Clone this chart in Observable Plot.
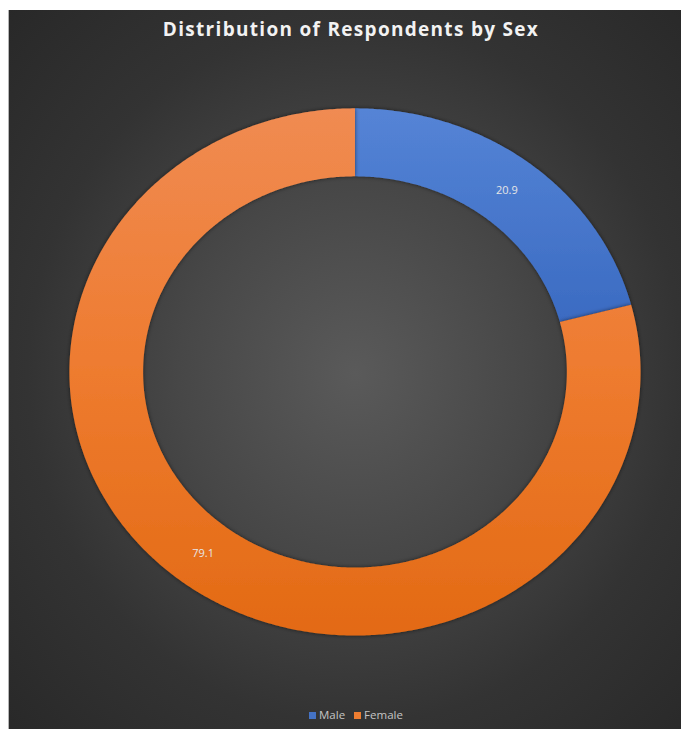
<!DOCTYPE html>
<html>
<head>
<meta charset="utf-8">
<script src="https://cdn.jsdelivr.net/npm/d3@7"></script>
<script src="https://cdn.jsdelivr.net/npm/@observablehq/plot@0.6"></script>
<style>
  html, body { margin: 0; padding: 0; background: #ffffff; }
  #panel {
    position: absolute; left: 8px; top: 10px; width: 673px; height: 719px;
    background: radial-gradient(ellipse 75% 75% at 51.5% 50.5%, #5a5a5a 0%, #474747 35%, #333333 65%, #272727 100%);
    border-left: 1px solid #b5b5b5; box-sizing: border-box; overflow: hidden;
  }
  #title {
    position: absolute; left: 6px; width: 100%; top: 6px; text-align: center;
    font-family: "Open Sans", sans-serif; font-weight: 700; font-size: 19px;
    letter-spacing: 1.3px; color: #f2f2f2;
  }
  #chart { position: absolute; left: 0; top: 0; }
  #legend {
    position: absolute; left: 300px; top: 697px; white-space: nowrap;
    font-family: "Open Sans", sans-serif; font-size: 11.5px; color: #c4c4c4;
  }
  #legend span.sw { display: inline-block; width: 7px; height: 7px; margin-right: 3px; vertical-align: 0px; }
  #legend span.item { margin-right: 9px; }
</style>
</head>
<body>
<div id="panel">
  <div id="chart"></div>
  <div id="title"></div>
  <div id="legend"></div>
</div>
<script>
const title = "Distribution of Respondents by Sex";
const categories = ["Male", "Female"];
const values = [20.9, 79.1];
const colors = ["#4472c4", "#ed7d31"];
const innerRatio = 0.742;

document.getElementById("title").textContent = title;

// build ring wedge polygons from the data
const total = d3.sum(values);
const points = [];
const labels = [];
let acc = 0;
categories.forEach((cat, i) => {
  const a0 = acc / total * 2 * Math.PI;
  acc += values[i];
  const a1 = acc / total * 2 * Math.PI;
  const n = Math.max(8, Math.ceil((a1 - a0) / (Math.PI / 360)));
  const outer = d3.range(n + 1).map(k => a0 + (a1 - a0) * k / n);
  outer.forEach(a => points.push({cat, x: Math.sin(a), y: Math.cos(a)}));
  outer.slice().reverse().forEach(a => points.push({cat, x: innerRatio * Math.sin(a), y: innerRatio * Math.cos(a)}));
  const am = (a0 + a1) / 2, rm = (1 + innerRatio) / 2;
  labels.push({cat, x: rm * Math.sin(am), y: rm * Math.cos(am), text: String(values[i])});
});

const plot = Plot.plot({
  width: 673,
  height: 719,
  margin: 0,
  style: {background: "transparent", overflow: "visible"},
  x: {domain: [-1, 1], range: [60, 632], axis: null},
  y: {domain: [-1, 1], range: [626, 98], axis: null},
  marks: [
    Plot.line(points, {filter: d => d.cat === "Male", x: "x", y: "y", z: "cat", fill: "url(#gMale)", stroke: "none", curve: "linear-closed"}),
    Plot.line(points, {filter: d => d.cat === "Female", x: "x", y: "y", z: "cat", fill: "url(#gFemale)", stroke: "none", curve: "linear-closed"}),
    Plot.text(labels, {x: "x", y: "y", text: "text", fill: "#e6e6e6", fontSize: 11, fontFamily: "Open Sans, sans-serif"})
  ]
});
plot.insertAdjacentHTML("afterbegin", `<defs>
  <linearGradient id="gMale" x1="0" y1="0" x2="0" y2="1">
    <stop offset="0" stop-color="#5584d6"/><stop offset="1" stop-color="#3b6bc2"/>
  </linearGradient>
  <linearGradient id="gFemale" x1="0" y1="0" x2="0" y2="1">
    <stop offset="0" stop-color="#f08b52"/><stop offset="0.5" stop-color="#ee7b2f"/><stop offset="1" stop-color="#e36a14"/>
  </linearGradient>
  <filter id="sh" x="-10%" y="-10%" width="120%" height="120%">
    <feDropShadow dx="0" dy="0" stdDeviation="2" flood-color="#000" flood-opacity="0.55"/>
  </filter>
</defs>`);
plot.querySelectorAll("g[aria-label='line']").forEach(g => g.setAttribute("filter", "url(#sh)"));
document.getElementById("chart").appendChild(plot);

const legend = document.getElementById("legend");
categories.forEach((cat, i) => {
  const item = document.createElement("span");
  item.className = "item";
  item.innerHTML = `<span class="sw" style="background:${colors[i]}"></span>${cat}`;
  legend.appendChild(item);
});
</script>
</body>
</html>
